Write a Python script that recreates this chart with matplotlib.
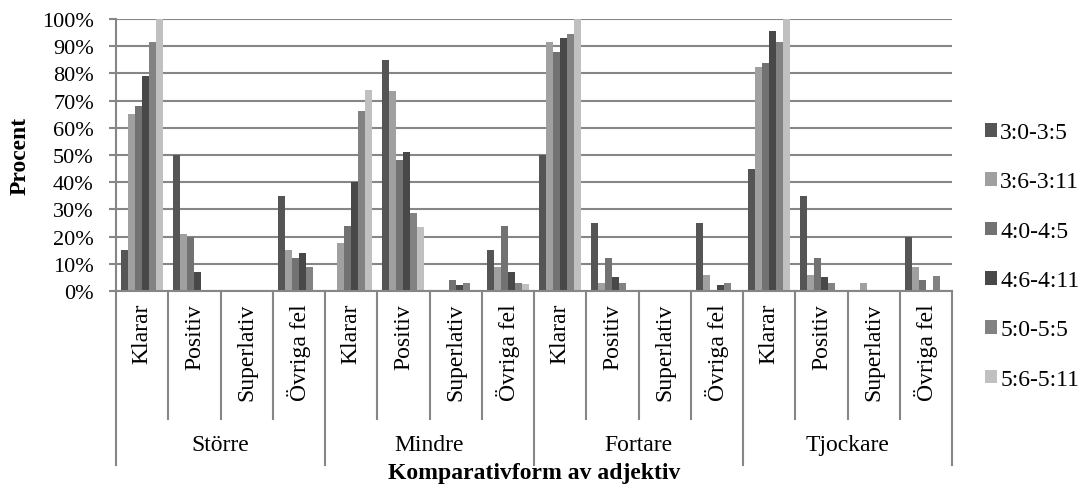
import matplotlib
matplotlib.use("Agg")
import matplotlib.pyplot as plt
from matplotlib.patches import Patch
from matplotlib.ticker import FuncFormatter
import numpy as np

plt.rcParams['font.family'] = ['Liberation Serif', 'DejaVu Serif']

adjectives = ["Större", "Mindre", "Fortare", "Tjockare"]
forms = ["Klarar", "Positiv", "Superlativ", "Övriga fel"]
series_names = ["3:0-3:5", "3:6-3:11", "4:0-4:5", "4:6-4:11", "5:0-5:5", "5:6-5:11"]
colors = ["#555555", "#a0a0a0", "#727272", "#484848", "#828282", "#c0c0c0"]

# values in percent, order: Större(K,P,S,Ö), Mindre(...), Fortare(...), Tjockare(...)
s_30_35 = [15, 50, 0, 35, 0, 85, 0, 15, 50, 25, 0, 25, 45, 35, 0, 20]
s_36_311 = [65, 21, 0, 15, 17.5, 73.5, 0, 9, 91.5, 3, 0, 6, 82.5, 6, 3, 9]
s_40_45 = [68, 20, 0, 12, 24, 48, 4, 24, 88, 12, 0, 0, 84, 12, 0, 4]
s_46_411 = [79, 7, 0, 14, 40, 51, 2.3, 7, 93, 5, 0, 2.2, 95.5, 5, 0, 0]
s_50_55 = [91.5, 0, 0, 9, 66, 28.5, 3, 3, 94.5, 3, 0, 3, 91.5, 3, 0, 5.6]
s_56_511 = [100, 0, 0, 0, 74, 23.5, 0, 2.7, 100, 0, 0, 0, 100, 0, 0, 0]
series = [s_30_35, s_36_311, s_40_45, s_46_411, s_50_55, s_56_511]

FS = 17
W, H = 1088, 489
fig = plt.figure(figsize=(W / 100, H / 100), dpi=100)
ax = fig.add_axes([116 / W, 1 - 292 / H, (952 - 116) / W, (292 - 20) / H])

n_cat = len(adjectives) * len(forms)
x = np.arange(n_cat)
bw = 1 / 7.5
for i, (vals, c, name) in enumerate(zip(series, colors, series_names)):
    ax.bar(x + (i - 2.5) * bw, vals, width=bw, color=c, label=name, zorder=3, linewidth=0)

ax.set_xlim(-0.5, n_cat - 0.5)
ax.set_ylim(0, 100)
ax.set_yticks(np.arange(0, 101, 10))
ax.yaxis.set_major_formatter(FuncFormatter(lambda v, p: f"{int(v)}%"))
ax.tick_params(axis='y', labelsize=16, length=5, width=1.5, color='#868686', pad=11)
ax.grid(axis='y', color='#868686', linewidth=1.5, zorder=0)
ax.set_xticks([])
for s in ['top', 'right']:
    ax.spines[s].set_visible(False)
ax.spines['left'].set_color('#868686')
ax.spines['left'].set_linewidth(1.5)
ax.spines['bottom'].set_color('#868686')
ax.spines['bottom'].set_linewidth(1.5)
ax.spines['bottom'].set_zorder(4)

trans = ax.get_xaxis_transform()
y_short = (292 - 420) / 272
y_long = (292 - 466) / 272
for b in range(n_cat + 1):
    xb = b - 0.5
    yl = y_long if b % 4 == 0 else y_short
    ax.plot([xb, xb], [0, yl], transform=trans, color='#868686', linewidth=1.5, clip_on=False)

y_form_top = (292 - 304) / 272
for k in range(n_cat):
    ax.text(k, y_form_top, forms[k % 4], transform=trans, rotation=90, ha='center', va='top', fontsize=FS)

y_adj = (292 - 451) / 272
for g, name in enumerate(adjectives):
    ax.text(g * 4 + 1.5, y_adj, name, transform=trans, ha='center', va='baseline', fontsize=FS)

fig.text((116 + 952) / 2 / W, 1 - 479 / H, "Komparativform av adjektiv", ha='center', va='baseline',
         fontsize=FS, fontweight='bold')
fig.text(20 / W, 1 - 156 / H, "Procent", rotation=90, ha='center', va='center', fontsize=FS, fontweight='bold')

handles = [Patch(facecolor=c, edgecolor='none') for c in colors]
fig.legend(handles, series_names, loc='center left', bbox_to_anchor=(985 / W, 1 - 257 / H),
           frameon=False, fontsize=FS, handlelength=0.5, handleheight=0.5, handletextpad=0.15,
           labelspacing=1.2, borderaxespad=0, borderpad=0)

fig.savefig("out.png", dpi=100)
